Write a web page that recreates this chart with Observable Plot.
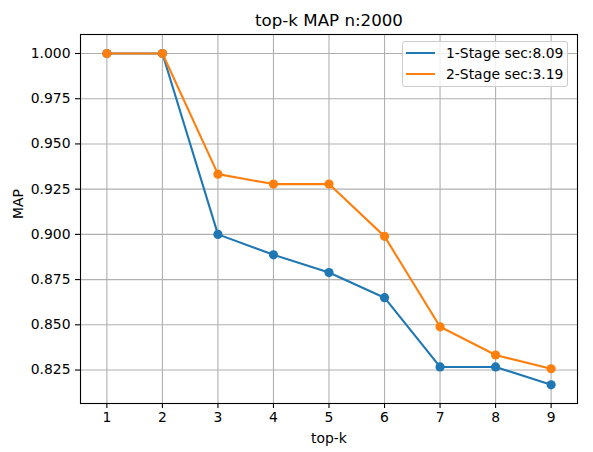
<!DOCTYPE html>
<html>
<head>
<meta charset="utf-8">
<script src="https://cdn.jsdelivr.net/npm/d3@7"></script>
<script src="https://cdn.jsdelivr.net/npm/@observablehq/plot@0.6"></script>
<style>
  html, body { margin: 0; padding: 0; background: #fff; }
  #wrap { position: relative; width: 593px; height: 452px; font-family: "DejaVu Sans", sans-serif; }
  .legend {
    position: absolute; left: 402px; top: 41px; width: 166px; height: 46px;
    border: 1px solid #cccccc; border-radius: 3px; background: rgba(255,255,255,0.8);
    box-sizing: border-box; padding: 1px 0 0 3px;
  }
  .legend .row { display: flex; align-items: center; height: 20.7px; font-size: 13.9px; color: #000; }
  .legend .swatch { width: 29px; height: 2px; margin-right: 11px; }
</style>
</head>
<body>
<div id="wrap"></div>
<script>
// MAP at each top-k cutoff for the two retrieval pipelines
const topK = [1, 2, 3, 4, 5, 6, 7, 8, 9];
const stage1Map = [1.000, 1.000, 0.900, 0.8887, 0.8789, 0.865, 0.8267, 0.8267, 0.8168];
const stage2Map = [1.000, 1.000, 0.9333, 0.9278, 0.9278, 0.8989, 0.8489, 0.8333, 0.8257];
const seriesNames = ["1-Stage sec:8.09", "2-Stage sec:3.19"];
const yTicks = [0.825, 0.850, 0.875, 0.900, 0.925, 0.950, 0.975, 1.000];
const titleText = "top-k MAP n:2000";
const xLabel = "top-k";
const yLabel = "MAP";

const colors = ["#1f77b4", "#ff7f0e"];
const series = [stage1Map, stage2Map];
const rows = series.flatMap((vals, i) =>
  vals.map((v, j) => ({ k: topK[j], map: v, series: seriesNames[i] })));

const font = "DejaVu Sans";
const chart = Plot.plot({
  width: 593,
  height: 452,
  marginLeft: 80,
  marginRight: 16,
  marginTop: 34,
  marginBottom: 49,
  style: { fontFamily: font, fontSize: "13.9px", color: "#000", background: "#fff" },
  x: { domain: [0.525, 9.475], ticks: topK },
  y: { domain: [0.8065, 1.0105], ticks: yTicks },
  color: { domain: seriesNames, range: colors },
  marks: [
    Plot.gridX(topK, { stroke: "#b0b0b0", strokeOpacity: 1, strokeWidth: 1.1 }),
    Plot.gridY(yTicks, { stroke: "#b0b0b0", strokeOpacity: 1, strokeWidth: 1.1 }),
    Plot.axisX(topK, { tickSize: 5, tickPadding: 4, tickFormat: d3.format("d"), label: null, fontSize: 13.9, strokeWidth: 1.1 }),
    Plot.axisY(yTicks, { tickSize: 5, tickPadding: 5, tickFormat: d3.format(".3f"), label: null, fontSize: 13.9, strokeWidth: 1.1 }),
    Plot.line(rows, { x: "k", y: "map", z: "series", stroke: "series", strokeWidth: 2.1 }),
    Plot.dot(rows, { x: "k", y: "map", fill: "series", r: 4.6, stroke: null }),
    Plot.frame({ stroke: "#000", strokeWidth: 1.1 }),
    Plot.text([titleText], { frameAnchor: "top", lineAnchor: "bottom", dy: -9, fontSize: 16.67, fill: "#000" }),
    Plot.text([xLabel], { frameAnchor: "bottom", lineAnchor: "middle", dy: 35, fontSize: 13.9, fill: "#000" }),
    Plot.text([yLabel], { frameAnchor: "left", lineAnchor: "middle", rotate: -90, dx: -62, fontSize: 13.9, fill: "#000" })
  ]
});

const wrap = document.getElementById("wrap");
wrap.appendChild(chart);

// legend overlay in the upper-right corner of the plot area
const legend = document.createElement("div");
legend.className = "legend";
seriesNames.forEach((name, i) => {
  const row = document.createElement("div");
  row.className = "row";
  const sw = document.createElement("span");
  sw.className = "swatch";
  sw.style.background = colors[i];
  const label = document.createElement("span");
  label.textContent = name;
  row.appendChild(sw);
  row.appendChild(label);
  legend.appendChild(row);
});
wrap.appendChild(legend);
</script>
</body>
</html>
